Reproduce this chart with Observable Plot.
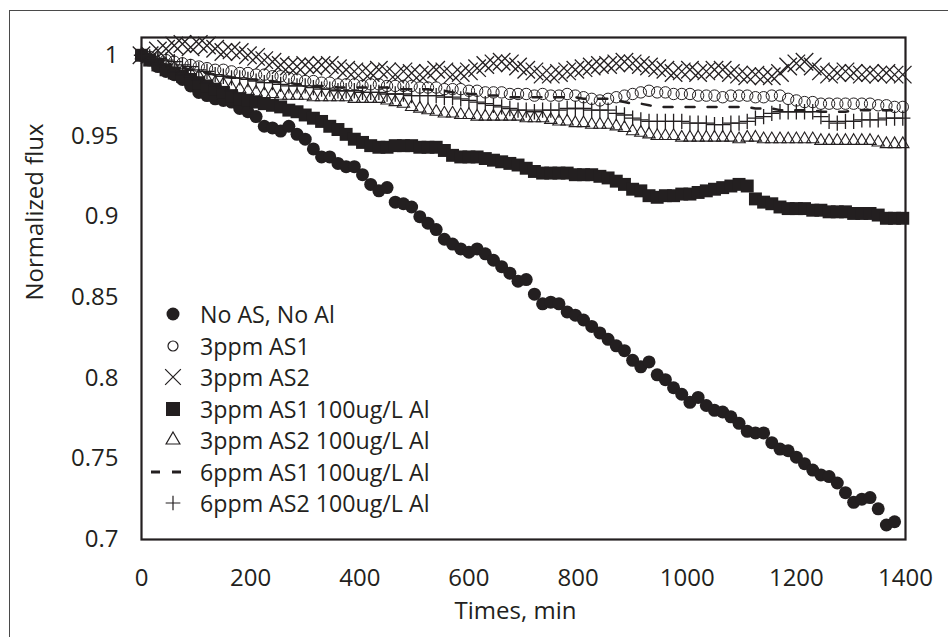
<!DOCTYPE html>
<html><head><meta charset="utf-8">
<script src="https://cdn.jsdelivr.net/npm/d3@7"></script>
<script src="https://cdn.jsdelivr.net/npm/@observablehq/plot@0.6"></script>
<style>
html,body{margin:0;padding:0;background:#fff;overflow:hidden;}
#wrap{position:relative;width:948px;height:637px;font-family:"Open Sans",sans-serif;color:#231f20;}
#outer{position:absolute;left:9px;top:10px;width:980px;height:680px;border:1.5px solid #4a4a4a;box-sizing:border-box;pointer-events:none;}
.leg{position:absolute;left:150px;height:24px;display:flex;align-items:center;font-size:23.2px;line-height:24px;white-space:nowrap;overflow:visible;}
.leg svg{width:46px;height:24px;flex:none;}
.leg span{display:block;height:24px;line-height:24px;margin-left:4px;}
</style>
</head><body>
<div id="wrap"><div id="chart"></div><div id="outer"></div></div>
<script>
const times = [
0,15,30,45,60,75,90,105,120,135,
150,165,180,195,210,225,240,255,270,285,
300,315,330,345,360,375,390,405,420,435,
450,465,480,495,510,525,540,555,570,585,
600,615,630,645,660,675,690,705,720,735,
750,765,780,795,810,825,840,855,870,885,
900,915,930,945,960,975,990,1005,1020,1035,
1050,1065,1080,1095,1110,1125,1140,1155,1170,1185,
1200,1215,1230,1245,1260,1275,1290,1305,1320,1335,
1350,1365,1380,1395];

const noAsNoAl = [
1.000,0.997,0.993,0.990,0.988,0.985,0.981,0.977,0.975,0.973,
0.972,0.971,0.967,0.965,0.962,0.956,0.955,0.953,0.956,0.951,
0.948,0.942,0.937,0.937,0.933,0.931,0.931,0.926,0.920,0.916,
0.918,0.909,0.908,0.906,0.900,0.896,0.892,0.886,0.883,0.880,
0.878,0.880,0.877,0.873,0.869,0.865,0.860,0.861,0.852,0.846,
0.847,0.846,0.841,0.839,0.836,0.832,0.828,0.824,0.820,0.817,
0.811,0.807,0.810,0.802,0.799,0.794,0.790,0.785,0.788,0.783,
0.780,0.779,0.776,0.772,0.767,0.766,0.766,0.760,0.756,0.755,
0.751,0.747,0.743,0.740,0.739,0.735,0.729,0.723,0.725,0.726,
0.719,0.709,0.711,null];

const as1 = [
1.000,0.999,0.998,0.997,0.996,0.995,0.994,0.993,0.992,0.991,
0.991,0.990,0.989,0.989,0.988,0.988,0.987,0.987,0.986,0.985,
0.984,0.984,0.983,0.983,0.982,0.982,0.982,0.981,0.982,0.982,
0.981,0.981,0.981,0.981,0.980,0.980,0.980,0.979,0.979,0.979,
0.978,0.978,0.977,0.977,0.977,0.976,0.976,0.976,0.975,0.976,
0.975,0.975,0.976,0.975,0.974,0.973,0.972,0.973,0.974,0.975,
0.976,0.977,0.978,0.977,0.977,0.976,0.976,0.976,0.975,0.975,
0.975,0.974,0.975,0.975,0.975,0.974,0.974,0.975,0.975,0.973,
0.972,0.971,0.971,0.970,0.970,0.970,0.970,0.970,0.970,0.970,
0.969,0.969,0.968,0.968];

const as2 = [
1.000,1.000,1.003,1.004,1.006,1.007,1.005,1.007,1.006,1.004,
1.002,1.003,1.002,1.000,0.999,0.997,0.996,0.994,0.993,0.993,
0.994,0.993,0.994,0.994,0.992,0.991,0.990,0.990,0.989,0.991,
0.990,0.988,0.990,0.989,0.988,0.989,0.991,0.990,0.988,0.989,
0.990,0.992,0.994,0.995,0.996,0.995,0.993,0.991,0.990,0.988,
0.988,0.989,0.990,0.991,0.992,0.993,0.994,0.994,0.995,0.996,
0.995,0.994,0.993,0.992,0.991,0.989,0.990,0.991,0.989,0.990,
0.991,0.991,0.989,0.988,0.987,0.988,0.987,0.987,0.989,0.993,
0.995,0.996,0.993,0.990,0.988,0.989,0.990,0.989,0.988,0.989,
0.988,0.989,0.988,0.988];

const as1Al = [
1.000,0.997,0.994,0.991,0.989,0.987,0.985,0.983,0.981,0.979,
0.977,0.975,0.973,0.972,0.971,0.970,0.969,0.968,0.966,0.965,
0.963,0.961,0.959,0.956,0.954,0.951,0.948,0.946,0.944,0.943,
0.943,0.944,0.944,0.944,0.943,0.943,0.943,0.941,0.938,0.937,
0.937,0.937,0.936,0.935,0.934,0.933,0.932,0.930,0.928,0.927,
0.927,0.927,0.927,0.926,0.926,0.926,0.925,0.924,0.922,0.920,
0.917,0.916,0.913,0.912,0.913,0.913,0.914,0.914,0.915,0.916,
0.917,0.918,0.919,0.920,0.919,0.911,0.909,0.908,0.906,0.905,
0.905,0.905,0.904,0.904,0.903,0.903,0.903,0.902,0.902,0.902,
0.901,0.899,0.899,0.899];

const as2Al = [
1.000,0.998,0.996,0.994,0.992,0.990,0.989,0.987,0.985,0.983,
0.982,0.980,0.979,0.978,0.977,0.976,0.976,0.975,0.975,0.975,
0.975,0.974,0.974,0.974,0.974,0.974,0.973,0.973,0.973,0.973,
0.972,0.971,0.970,0.968,0.967,0.966,0.965,0.964,0.964,0.963,
0.963,0.962,0.962,0.962,0.962,0.962,0.962,0.961,0.961,0.961,
0.960,0.959,0.959,0.958,0.958,0.957,0.957,0.957,0.956,0.955,
0.953,0.952,0.951,0.950,0.950,0.950,0.949,0.949,0.949,0.949,
0.949,0.949,0.949,0.948,0.949,0.949,0.948,0.948,0.948,0.948,
0.948,0.948,0.948,0.947,0.947,0.947,0.947,0.947,0.947,0.947,
0.946,0.945,0.945,0.945];

const as1Al6 = [
1.000,0.998,0.996,0.994,0.993,0.992,0.991,0.990,0.989,0.988,
0.987,0.986,0.986,0.985,0.985,0.984,0.984,0.983,0.983,0.982,
0.982,0.981,0.981,0.981,0.980,0.980,0.980,0.980,0.980,0.980,
0.980,0.979,0.979,0.979,0.979,0.979,0.978,0.978,0.977,0.977,
0.976,0.976,0.975,0.975,0.975,0.974,0.974,0.974,0.974,0.974,
0.974,0.974,0.974,0.974,0.973,0.973,0.973,0.973,0.972,0.971,
0.970,0.970,0.969,0.968,0.968,0.968,0.968,0.968,0.968,0.968,
0.968,0.968,0.968,0.968,0.968,0.967,0.967,0.967,0.966,0.966,
0.966,0.966,0.966,0.965,0.965,0.965,0.965,0.966,0.966,0.966,
0.966,0.966,0.966,0.966];

const as2Al6 = [
1.000,0.999,0.998,0.997,0.996,0.994,0.993,0.991,0.990,0.988,
0.987,0.986,0.986,0.985,0.984,0.983,0.983,0.982,0.981,0.981,
0.981,0.980,0.979,0.979,0.978,0.978,0.978,0.977,0.977,0.977,
0.976,0.976,0.976,0.975,0.975,0.975,0.975,0.974,0.974,0.973,
0.972,0.971,0.970,0.969,0.968,0.967,0.966,0.966,0.965,0.966,
0.966,0.966,0.967,0.967,0.967,0.966,0.966,0.966,0.964,0.963,
0.961,0.960,0.959,0.959,0.959,0.959,0.959,0.958,0.958,0.958,
0.957,0.957,0.958,0.958,0.959,0.961,0.962,0.964,0.965,0.965,
0.965,0.965,0.965,0.962,0.959,0.958,0.959,0.959,0.960,0.960,
0.960,0.961,0.961,0.961];

const seriesNames = ["No AS, No Al","3ppm AS1","3ppm AS2","3ppm AS1 100ug/L Al","3ppm AS2 100ug/L Al","6ppm AS1 100ug/L Al","6ppm AS2 100ug/L Al"];
const xTicks = [0,200,400,600,800,1000,1200,1400];
const yTicks = [0.7,0.75,0.8,0.85,0.9,0.95,1];
const xTitle = "Times, min";
const yTitle = "Normalized flux";

const INK = "#231f20";
const rows = arr => times.map((t,i)=>({t, v: arr[i]})).filter(d => d.v != null);

const chart = Plot.plot({
  width: 948, height: 637,
  marginLeft: 141, marginRight: 43, marginTop: 37, marginBottom: 98,
  style: {fontFamily: '"Open Sans", sans-serif', fontSize: "24px", color: INK, background: "transparent"},
  x: {domain: [0, 1400]},
  y: {domain: [0.7, 1.011]},
  marks: [
    Plot.dot(rows(noAsNoAl), {x: "t", y: "v", r: 6.5, fill: INK, symbol: "circle"}),
    Plot.dot(rows(as1), {x: "t", y: "v", r: 5.7, stroke: INK, fill: "none", strokeWidth: 1, symbol: "circle"}),
    Plot.dot(rows(as2), {x: "t", y: "v", r: 8, stroke: INK, strokeWidth: 1.3, symbol: "times"}),
    Plot.dot(rows(as1Al), {x: "t", y: "v", r: 7.3, fill: INK, symbol: "square"}),
    Plot.dot(rows(as2Al), {x: "t", y: "v", r: 5.9, stroke: INK, fill: "none", strokeWidth: 1.1, symbol: "triangle2"}),
    Plot.line(rows(as1Al6), {x: "t", y: "v", stroke: INK, strokeWidth: 2.5, strokeDasharray: "9,13"}),
    Plot.dot(rows(as2Al6), {x: "t", y: "v", r: 5, stroke: INK, strokeWidth: 1.3, symbol: "plus"}),
    Plot.frame({stroke: INK, strokeWidth: 2.2}),
    Plot.axisX({ticks: xTicks, tickSize: 0, tickPadding: 29, label: null, tickFormat: d => String(d)}),
    Plot.axisY({ticks: yTicks, tickSize: 0, tickPadding: 23, label: null, tickFormat: d => String(d)}),
    Plot.text([xTitle], {frameAnchor: "bottom", dy: 79, dx: -8, text: d => d, fill: INK}),
    Plot.text([yTitle], {frameAnchor: "left", dx: -106, dy: 12, rotate: -90, text: d => d, fill: INK})
  ]
});
document.getElementById("chart").appendChild(chart);

// legend inside the plot area
const legendSym = [
  {type: d3.symbolCircle, size: Math.PI*6.5*6.5, fill: INK, stroke: "none"},
  {type: d3.symbolCircle, size: Math.PI*5*5, fill: "none", stroke: INK},
  {type: d3.symbolTimes, size: Math.PI*7.2*7.2, fill: "none", stroke: INK},
  {type: d3.symbolSquare, size: 14*14, fill: INK, stroke: "none"},
  {type: d3.symbolTriangle2, size: Math.PI*6.6*6.6, fill: "none", stroke: INK},
  {dash: true},
  {type: d3.symbolPlus, size: Math.PI*4.8*4.8, fill: "none", stroke: INK}
];
const legendCenters = [314, 345.5, 377, 408.5, 440, 471.5, 503];
const wrap = document.getElementById("wrap");
seriesNames.forEach((name, i) => {
  const row = document.createElement("div");
  row.className = "leg";
  row.style.top = (legendCenters[i] - 12) + "px";
  const svg = d3.create("svg").attr("viewBox", "-23 -12 46 24");
  const s = legendSym[i];
  if (s.dash) {
    svg.append("line").attr("x1", -22).attr("x2", -13).attr("y1", 0).attr("y2", 0).attr("stroke", INK).attr("stroke-width", 3);
    svg.append("line").attr("x1", -1).attr("x2", 8).attr("y1", 0).attr("y2", 0).attr("stroke", INK).attr("stroke-width", 3);
  } else {
    svg.append("path").attr("d", d3.symbol(s.type, s.size)()).attr("fill", s.fill).attr("stroke", s.stroke).attr("stroke-width", 1.2);
  }
  row.appendChild(svg.node());
  const span = document.createElement("span");
  span.textContent = name;
  row.appendChild(span);
  wrap.appendChild(row);
});
</script>
</body></html>
